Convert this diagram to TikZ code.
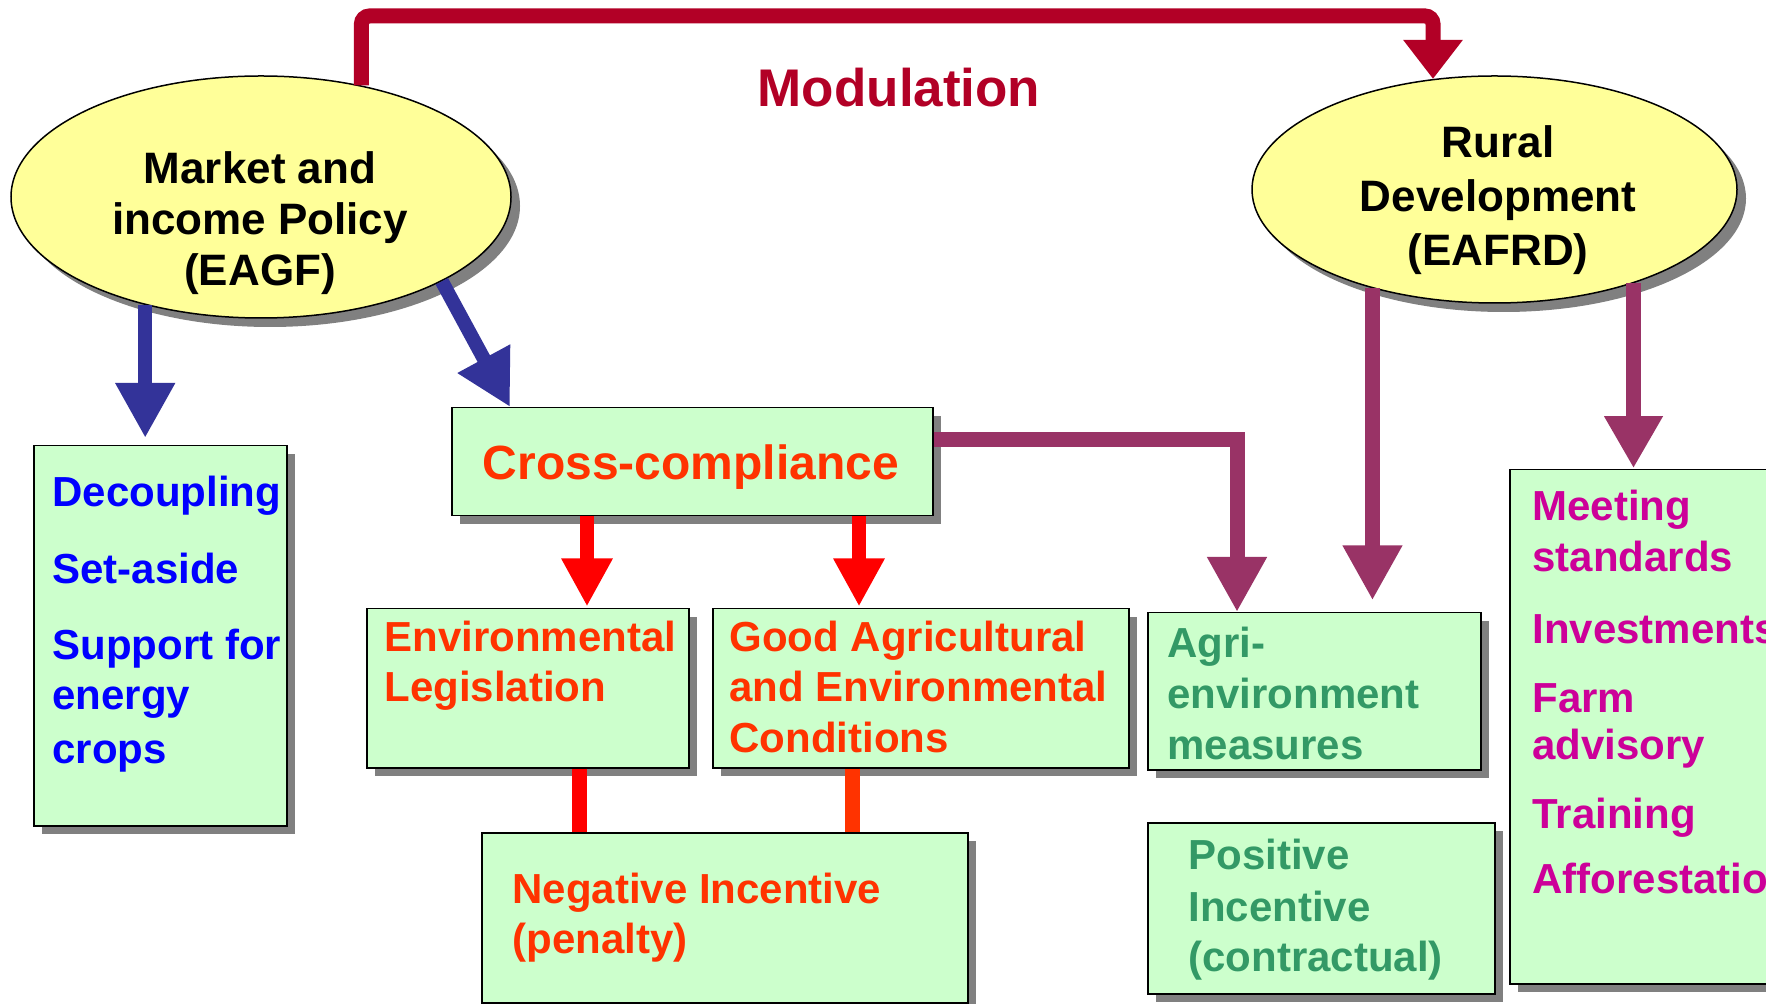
\documentclass[tikz,border=0pt]{standalone}
\usepackage{fontspec}
\setmainfont{Liberation Sans}
\usetikzlibrary{arrows.meta,shapes.geometric,shadows,calc}
\definecolor{boxfill}{HTML}{CCFFCC}
\definecolor{ovalfill}{HTML}{FFFF99}
\definecolor{shadowgray}{HTML}{808080}
\definecolor{bluearr}{HTML}{333399}
\definecolor{redarr}{HTML}{FF0000}
\definecolor{orangetxt}{HTML}{FF3300}
\definecolor{purparr}{HTML}{993366}
\definecolor{greentxt}{HTML}{339966}
\definecolor{magtxt}{HTML}{CC0099}
\definecolor{bluetxt}{HTML}{0000FF}
\definecolor{modred}{HTML}{B20026}
\begin{document}
\begin{tikzpicture}[x=0.5pt,y=-0.5pt,
  box/.style={draw=black, line width=0.75pt, fill=boxfill, anchor=north west, inner sep=0pt,
    drop shadow={shadow xshift=4.25pt, shadow yshift=-4.25pt, fill=shadowgray, opacity=1}},
  oval/.style={ellipse, draw=black, line width=0.75pt, fill=ovalfill, inner sep=0pt,
    drop shadow={shadow xshift=4.5pt, shadow yshift=-4.5pt, fill=shadowgray, opacity=1}},
  txt/.style={anchor=base west, inner sep=0pt, font=\bfseries\fontsize{21}{25}\selectfont},
  ctxt/.style={anchor=base, inner sep=0pt, font=\bfseries\fontsize{22}{26}\selectfont, text=black},
  blueline/.style={draw=bluearr, line width=7pt, -{Triangle[width=28pt,length=27.5pt]}},
  redline/.style={draw=redarr, line width=7pt},
  purpline/.style={draw=purparr, line width=7.5pt},
  modline/.style={draw=modred, line width=7.5pt}
]
\clip (0,0) rectangle (1766,1004);
\fill[white] (0,0) rectangle (1766,1004);

% ellipses
\node[oval, minimum width=250pt, minimum height=121pt] (mk) at (261,197) {};
\node[oval, minimum width=242.5pt, minimum height=113.5pt] (rd) at (1494.5,189.5) {};
\node[ctxt] (mk1) at (260,184) {Market and};
\node[ctxt] (mk2) at (260,235) {income Policy};
\node[ctxt] (mk3) at (260,286) {(EAGF)};
\node[ctxt] (rd1) at (1498,158) {Rural};
\node[ctxt] (rd2) at (1498,212) {Development};
\node[ctxt] (rd3) at (1498,266) {(EAFRD)};

% boxes
\node[box, minimum width=126.5pt, minimum height=190pt] (dec) at (33,445) {};
\node[box, minimum width=240.5pt, minimum height=54pt] (cc) at (451,407) {};
\node[box, minimum width=161pt, minimum height=79.5pt] (env) at (366,608) {};
\node[box, minimum width=208pt, minimum height=79.5pt] (good) at (712,608) {};
\node[box, minimum width=243pt, minimum height=85pt] (neg) at (481,832) {};
\node[box, minimum width=166.5pt, minimum height=78.5pt] (ag) at (1147,612) {};
\node[box, minimum width=173.5pt, minimum height=85.5pt] (pos) at (1147,822) {};
\node[box, minimum width=150pt, minimum height=257pt] (meet) at (1509,469) {};

% texts
\node[anchor=base, inner sep=0pt, text=modred, font=\bfseries\fontsize{26.5}{30}\selectfont] (mod) at (899,107) {Modulation};
\node[anchor=base, inner sep=0pt, text=orangetxt, font=\bfseries\fontsize{24}{28}\selectfont] (cctxt) at (691,480) {Cross-compliance};

\node[txt, text=bluetxt] (d1) at (52,507) {Decoupling};
\node[txt, text=bluetxt] (d2) at (52,584) {Set-aside};
\node[txt, text=bluetxt] (d3) at (52,660) {Support for};
\node[txt, text=bluetxt] (d4) at (52,710) {energy};
\node[txt, text=bluetxt] (d5) at (52,763) {crops};

\node[txt, text=orangetxt] (e1) at (384,652) {Environmental};
\node[txt, text=orangetxt] (e2) at (384,702) {Legislation};

\node[txt, text=orangetxt] (g1) at (729,652) {Good Agricultural};
\node[txt, text=orangetxt] (g2) at (729,702) {and Environmental};
\node[txt, text=orangetxt] (g3) at (729,752) {Conditions};

\node[txt, text=orangetxt] (n1) at (512,903) {Negative Incentive};
\node[txt, text=orangetxt] (n2) at (512,953) {(penalty)};

\node[txt, text=greentxt] (a1) at (1167,658) {Agri-};
\node[txt, text=greentxt] (a2) at (1167,709) {environment};
\node[txt, text=greentxt] (a3) at (1167,759) {measures};

\node[txt, text=greentxt] (p1) at (1188,869) {Positive};
\node[txt, text=greentxt] (p2) at (1188,921) {Incentive};
\node[txt, text=greentxt] (p3) at (1188,971) {(contractual)};

\node[txt, text=magtxt] (m1) at (1532,521) {Meeting};
\node[txt, text=magtxt] (m2) at (1532,572) {standards};
\node[txt, text=magtxt] (m3) at (1532,644) {Investments};
\node[txt, text=magtxt] (m4) at (1532,712) {Farm};
\node[txt, text=magtxt] (m5) at (1532,759) {advisory};
\node[txt, text=magtxt] (m6) at (1532,828) {Training};
\node[txt, text=magtxt] (m7) at (1532,893) {Afforestation};

% connectors
\coordinate (topR) at (1433,16);
\draw[modline, rounded corners=4pt, -{Triangle[width=28.5pt,length=19.5pt]}]
  (mk.48.3) |- (topR) -- (topR |- rd.119.25);

\draw[blueline] (mk.223.7) -- ++(0,133);
\draw[blueline] (mk.-25.9) -- ($(cc.north west)+(59,0)$);

\draw[redline, -{Triangle[width=24pt,length=24pt]}] ($(cc.south west)+(136,0)$) -- ++(0,90);
\draw[redline, -{Triangle[width=24pt,length=24pt]}] ($(cc.south west)+(408,0)$) -- ++(0,90);

\draw[redline, line width=7.5pt] ($(env.south west)+(213,0)$) -- ($(neg.north west)+(98,0)$);
\draw[redline, draw=orangetxt, line width=7.5pt] ($(good.south west)+(140,0)$) -- ($(neg.north west)+(371,0)$);

\draw[purpline, -{Triangle[width=28pt,length=27.5pt]}] ($(cc.north east)+(0,33)$) -| ($(ag.north west)+(90,0)$);
\draw[purpline, -{Triangle[width=28pt,length=27.5pt]}] (rd.219.2) -- ++(0,312);
\draw[purpline, -{Triangle[width=27.5pt,length=26pt]}] (rd.-34.5) -- ++(0,185);
\end{tikzpicture}
\end{document}
